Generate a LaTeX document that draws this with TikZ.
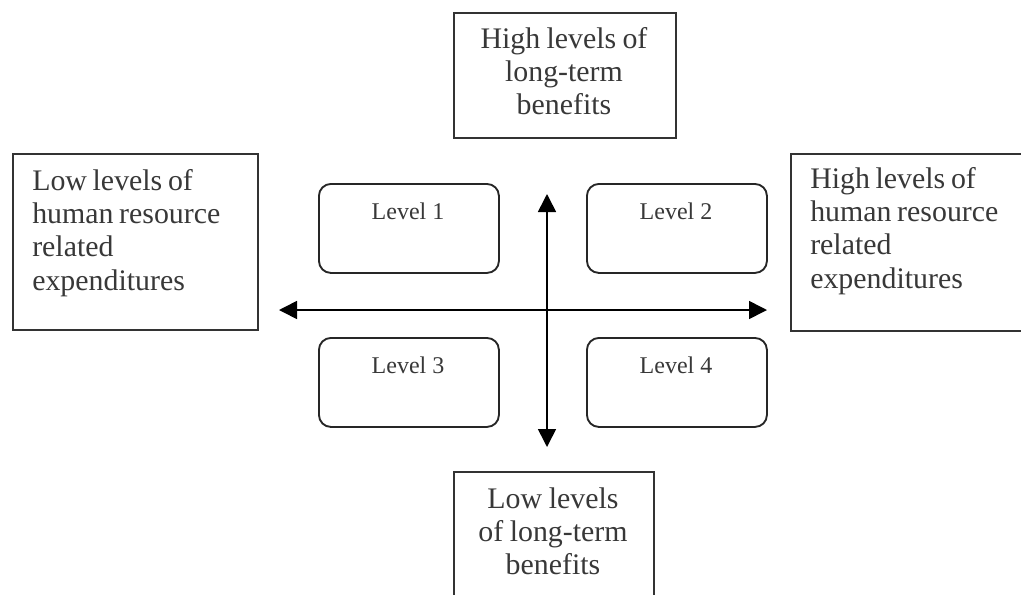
\documentclass[tikz,border=0pt]{standalone}
\usepackage{fontspec}
\setmainfont{Liberation Serif}
\usetikzlibrary{arrows.meta}
\newcommand\tightspaces{\spaceskip=0.19em plus 0.05em\relax}
\begin{document}
\begin{tikzpicture}[x=0.75pt,y=-0.75pt,
  sqbox/.style={draw=black!80,line width=1.4pt,inner sep=0pt,anchor=north west},
  lvlbox/.style={draw=black!85,line width=1.4pt,rounded corners=9pt,inner sep=0pt,anchor=north west,
    minimum width={180*0.75pt},minimum height={89*0.75pt}},
  bigtxt/.style={font=\fontsize{22.4}{25}\selectfont,execute at begin node=\tightspaces,text=black!78,inner sep=0pt,text width={215*0.75pt}},
  lvltxt/.style={font=\fontsize{18}{21}\selectfont,text=black!78,inner sep=0pt},
  axis/.style={line width=1.2pt,{Triangle[length=13.5pt,width=13.5pt]}-{Triangle[length=13.5pt,width=13.5pt]}}]
\useasboundingbox (0,0) rectangle (1021,594);
% outer boxes
\node[sqbox,minimum width={222*0.75pt},minimum height={125*0.75pt}] (T) at (453,12) {};
\node[sqbox,minimum width={245*0.75pt},minimum height={176*0.75pt}] (L) at (12,153) {};
\node[sqbox,minimum width={245*0.75pt},minimum height={177*0.75pt}] (R) at (790,153) {};
\node[sqbox,minimum width={200*0.75pt},minimum height={140*0.75pt}] (B) at (453,471) {};
% texts of outer boxes
\node[bigtxt,align=center,anchor=base] (Tt) at (564,48) {High levels of\\long-term\\benefits};
\node[bigtxt,align=left,anchor=base west] (Lt) at (32,190) {Low levels of\\human resource\\related\\expenditures};
\node[bigtxt,align=left,anchor=base west] (Rt) at (810,188) {High levels of\\human resource\\related\\expenditures};
\node[bigtxt,align=center,anchor=base] (Bt) at (553,508) {Low levels\\of long-term\\benefits};
% level boxes
\node[lvlbox] (L1) at (318,183) {};
\node[lvlbox] (L2) at (586,183) {};
\node[lvlbox] (L3) at (318,337) {};
\node[lvlbox] (L4) at (586,337) {};
\node[lvltxt,anchor=base] (L1t) at (408,219) {Level 1};
\node[lvltxt,anchor=base] (L2t) at (676,219) {Level 2};
\node[lvltxt,anchor=base] (L3t) at (408,373) {Level 3};
\node[lvltxt,anchor=base] (L4t) at (676,373) {Level 4};
% axes
\coordinate (hl) at (279,310);
\coordinate (hr) at (767,310);
\coordinate (vt) at (547,194);
\coordinate (vb) at (547,447);
\draw[axis] (hl) -- (hr);
\draw[axis] (vt) -- (vb);
\end{tikzpicture}
\end{document}
